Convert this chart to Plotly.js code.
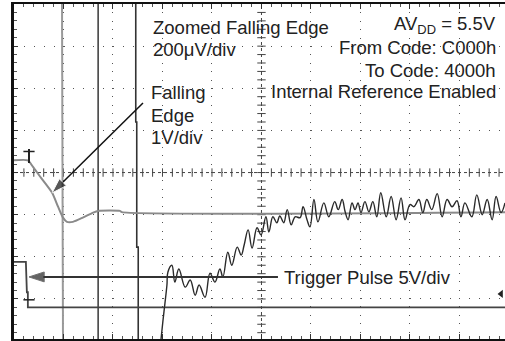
<!DOCTYPE html>
<html><head><meta charset="utf-8">
<script src="https://cdn.plot.ly/plotly-3.0.1.min.js"></script>
<style>html,body{margin:0;padding:0;background:#fff;overflow:hidden}</style>
</head><body><div id="chart" style="width:505px;height:341px"></div>
<script>
// Units: horizontal = scope divisions (0..~9.9 visible), vertical = divisions (-4..4)
// Zoomed falling edge (200uV/div) trace
const zoomX = [2.97,3.01,3.05,3.09,3.11,3.19,3.25,3.33,3.46,3.56,3.66,3.74,3.86,3.96,4.06,4.16,4.22,4.32,4.40,4.51,4.59,4.65,4.73,4.81,4.91,4.99,5.09,5.15,5.23,5.31,5.37,5.45,5.52,5.60,5.68,5.78,5.84,5.92,5.98,6.06,6.14,6.26,6.36,6.48,6.55,6.63,6.69,6.75,6.83,6.89,6.95,7.01,7.09,7.17,7.25,7.33,7.41,7.52,7.62,7.72,7.82,7.90,8.00,8.08,8.18,8.26,8.34,8.44,8.55,8.65,8.75,8.85,8.95,9.03,9.11,9.25,9.35,9.46,9.56,9.66,9.74,9.84,9.92];
const zoomY = [-3.96,-3.51,-3.10,-2.67,-2.36,-2.20,-2.60,-2.29,-2.72,-2.55,-2.91,-2.67,-2.96,-2.39,-2.60,-2.29,-2.48,-1.89,-2.20,-1.77,-1.96,-1.72,-1.36,-1.79,-1.31,-1.48,-1.05,-1.41,-1.05,-1.19,-1.03,-1.19,-0.88,-1.24,-1.05,-1.07,-0.81,-1.12,-1.29,-0.64,-1.17,-0.72,-1.05,-0.69,-0.88,-0.64,-0.93,-1.12,-0.72,-0.88,-0.72,-0.95,-0.69,-0.93,-0.69,-1.05,-0.48,-1.05,-0.57,-1.12,-0.60,-1.12,-0.76,-0.81,-0.64,-0.95,-0.64,-0.88,-0.50,-1.05,-0.64,-0.81,-0.67,-1.05,-0.72,-1.05,-0.53,-1.00,-0.64,-1.12,-0.57,-0.95,-0.72];
// Falling edge (1V/div) trace
const fallX = [0,0.28,0.38,0.53,0.77,0.89,0.99,1.07,1.19,1.39,1.60,1.70,2.14,2.18,9.92];
const fallY = [0.29,0.29,0.14,-0.10,-0.48,-0.81,-1.07,-1.17,-1.17,-1.07,-0.95,-0.91,-0.91,-0.94,-0.94];
// Trigger pulse (5V/div) trace
const trigX = [0,0.24,0.26,0.28,0.28,9.92];
const trigY = [-2.12,-2.12,-2.84,-2.84,-3.20,-3.20];
// vertical artefact lines
const art1X = [0.97,0.99], art1Y = [4,-3.95];
const art2X = [1.70,1.70], art2Y = [4,-3.95];
const art3X = [2.46,2.46,2.48,2.48,2.51,2.51], art3Y = [4,1.20,1.20,-1.77,-1.77,-3.95];
// callout arrows (tail -> tip)
const arrowFallX = [2.606,0.768], arrowFallY = [1.652,-0.484];
const arrowTrigX = [5.333,0.303], arrowTrigY = [-2.477,-2.477];

const FONT = '"Liberation Sans", Arial, Helvetica, sans-serif';

// decorative centre-cross ticks (graticule)
const hx=[],hy=[],vx=[],vy=[];
for(let k=1;k<50;k++){hx.push(k*0.2);hy.push(0);}
for(let k=-19;k<=19;k++){vx.push(5);vy.push(k*0.2);}

const traces = [
 {x:hx,y:hy,mode:'markers',marker:{symbol:'line-ns',size:6,line:{width:1,color:'#444'}},hoverinfo:'skip'},
 {x:vx,y:vy,mode:'markers',marker:{symbol:'line-ew',size:6,line:{width:1,color:'#444'}},hoverinfo:'skip'},
 {x:art1X,y:art1Y,mode:'lines',line:{color:'#999',width:2}},
 {x:art2X,y:art2Y,mode:'lines',line:{color:'#444',width:1.6}},
 {x:art3X,y:art3Y,mode:'lines',line:{color:'#333',width:1.6}},
 {x:fallX,y:fallY,mode:'lines',line:{color:'#8a8a8a',width:2,shape:'spline',smoothing:0.6}},
 {x:trigX,y:trigY,mode:'lines',line:{color:'#444',width:1.8}},
 {x:zoomX,y:zoomY,mode:'lines',line:{color:'#2a2a2a',width:1.4,shape:'spline',smoothing:1.1}},
 {x:[0.303],y:[0.394],mode:'markers',marker:{symbol:'line-ns',size:10,line:{width:2,color:'#222'}}},
 {x:[0.303],y:[0.50],mode:'markers',marker:{symbol:'line-ew',size:8,line:{width:1.5,color:'#222'}}},
 {x:[0.303],y:[-3.02],mode:'markers',marker:{symbol:'line-ew',size:8,line:{width:1.5,color:'#222'}}},
 {x:[9.84],y:[-2.88],mode:'markers',marker:{symbol:'triangle-left',size:7,color:'#222'}},
 {x:arrowFallX,y:arrowFallY,mode:'lines+markers',line:{color:'#111',width:1.5},
  marker:{symbol:'arrow',size:[0,16],color:'#111',angleref:'previous'}},
 {x:arrowTrigX,y:arrowTrigY,mode:'lines+markers',line:{color:'#333',width:2},
  marker:{symbol:'arrow',size:[0,16],color:'#222',angleref:'previous'}}
];

function txt(t,x,y,xa){return {text:t,x:x,y:y,xref:'x',yref:'y',xanchor:xa,yanchor:'middle',showarrow:false,font:{family:FONT,size:18.5,color:'#222'}};}

const layout = {
 width:505,height:341,margin:{l:14,r:0,t:4,b:2,pad:0},
 paper_bgcolor:'#fff',plot_bgcolor:'#fff',showlegend:false,
 xaxis:{range:[0,9.92],dtick:1,tick0:0,showgrid:true,gridcolor:'#555',gridwidth:1,griddash:'1px,7.4px',
   zeroline:false,showline:true,linecolor:'#111',linewidth:2.5,mirror:'ticks',ticks:'inside',ticklen:5,tickcolor:'#333',tickwidth:1,
   minor:{dtick:0.2,tick0:0,ticks:'inside',ticklen:3,tickcolor:'#555',tickwidth:1,showgrid:false},
   showticklabels:false,fixedrange:true},
 yaxis:{range:[-3.95,4],dtick:1,tick0:0,showgrid:true,gridcolor:'#555',gridwidth:1,griddash:'1px,8.9px',
   zeroline:false,showline:true,linecolor:'#111',linewidth:3.5,mirror:false,ticks:'inside',ticklen:4,tickcolor:'#333',tickwidth:1,
   minor:{dtick:0.2,tick0:0,ticks:'inside',ticklen:3,tickcolor:'#555',tickwidth:1,showgrid:false},
   showticklabels:false,fixedrange:true},
 shapes:[
  {type:'line',xref:'x',yref:'y',x0:0,x1:9.92,y0:0,y1:0,line:{color:'#444',width:1,dash:'dot'},layer:'below'},
  {type:'line',xref:'x',yref:'y',x0:5,x1:5,y0:-3.95,y1:4,line:{color:'#444',width:1,dash:'dot'},layer:'below'}
 ],
 annotations:[
  txt('Zoomed Falling Edge',2.77,3.443,'left'),
  txt('200μV/div',2.77,2.921,'left'),
  txt('AV<sub>DD</sub> = 5.5V',9.77,3.50,'right'),
  txt('From Code: C000h',9.77,2.969,'right'),
  txt('To Code: 4000h',9.77,2.423,'right'),
  txt('Internal Reference Enabled',9.77,1.925,'right'),
  txt('Falling',2.73,1.90,'left'),
  txt('Edge',2.73,1.35,'left'),
  txt('1V/div',2.73,0.833,'left'),
  txt('Trigger Pulse 5V/div',5.42,-2.489,'left')
 ]
};
Plotly.newPlot('chart',traces,layout,{staticPlot:true,displayModeBar:false});
</script></body></html>
